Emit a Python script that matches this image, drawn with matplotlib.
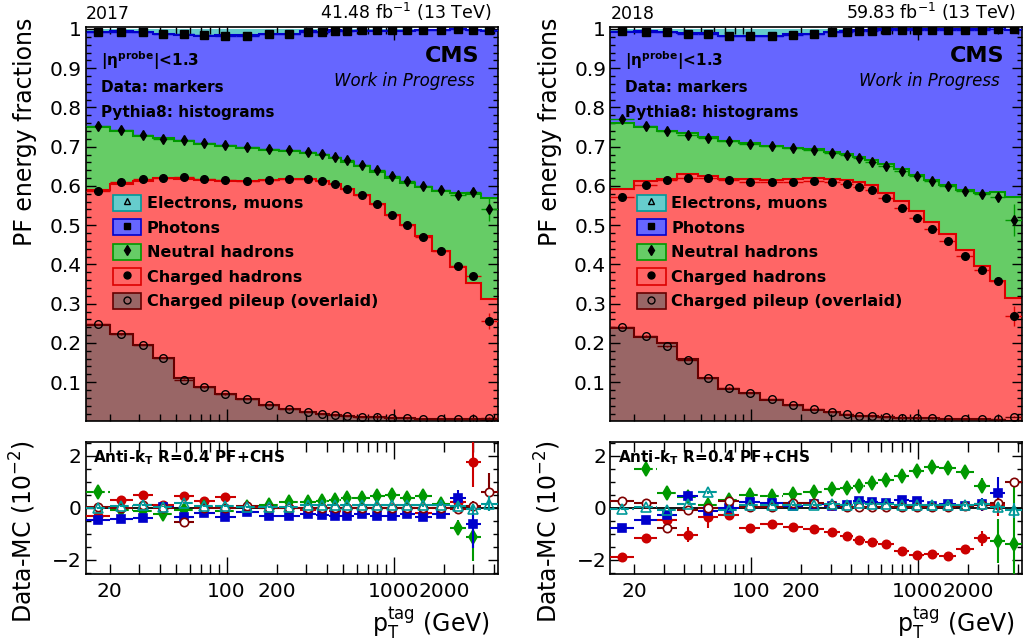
import numpy as np
import matplotlib
matplotlib.use("Agg")
import matplotlib.pyplot as plt
from matplotlib.patches import Patch
from matplotlib.lines import Line2D
from matplotlib.ticker import FixedLocator, FuncFormatter, MultipleLocator, FixedFormatter

plt.rcParams['font.family'] = ['DejaVu Sans']
plt.rcParams['mathtext.fontset'] = 'dejavusans'

# ---------------- data ----------------
pt_edges = [14.4, 20, 27.5, 36.2, 48.3, 63.6, 85, 113.6, 156, 205.5, 275, 343, 410,
            483, 578, 721, 887, 1091, 1341, 1695, 2173, 2711, 3336, 4218]

years = ["2017", "2018"]
lumi_labels = [r"41.48 fb$^{-1}$ (13 TeV)", r"59.83 fb$^{-1}$ (13 TeV)"]

# data marker heights in the stacked plot (cumulative levels)
chf17 = [0.587, 0.609, 0.617, 0.620, 0.623, 0.618, 0.616, 0.612, 0.616, 0.617, 0.617, 0.612,
         0.605, 0.592, 0.578, 0.554, 0.527, 0.500, 0.470, 0.433, 0.395, 0.370, 0.256]
nht17 = [0.753, 0.742, 0.731, 0.720, 0.718, 0.710, 0.704, 0.698, 0.693, 0.691, 0.686, 0.681,
         0.674, 0.666, 0.654, 0.640, 0.625, 0.612, 0.601, 0.589, 0.576, 0.585, 0.541]
pht17 = [0.992, 0.993, 0.991, 0.987, 0.986, 0.984, 0.983, 0.983, 0.986, 0.987, 0.993, 0.993,
         0.995, 0.995, 0.997, 0.997, 0.997, 0.997, 0.997, 0.997, 0.999, 0.998, 0.997]
pu17 = [0.247, 0.222, 0.195, 0.162, 0.106, 0.087, 0.069, 0.057, 0.043, 0.031, 0.025, 0.019,
        0.016, 0.014, 0.012, 0.010, 0.009, 0.008, 0.007, 0.007, 0.006, 0.006, 0.009]

chf18 = [0.572, 0.602, 0.614, 0.619, 0.621, 0.615, 0.611, 0.609, 0.611, 0.612, 0.609, 0.604,
         0.597, 0.589, 0.568, 0.545, 0.518, 0.490, 0.459, 0.421, 0.385, 0.359, 0.269]
nht18 = [0.770, 0.753, 0.741, 0.729, 0.723, 0.714, 0.706, 0.701, 0.696, 0.692, 0.685, 0.679,
         0.670, 0.662, 0.652, 0.638, 0.625, 0.612, 0.599, 0.587, 0.579, 0.572, 0.513]
pht18 = [0.995, 0.993, 0.991, 0.987, 0.986, 0.983, 0.981, 0.981, 0.985, 0.987, 0.991, 0.993,
         0.996, 0.996, 0.998, 0.998, 0.998, 0.998, 0.998, 0.998, 0.998, 0.999, 0.999]
pu18 = [0.241, 0.218, 0.191, 0.157, 0.111, 0.086, 0.073, 0.056, 0.043, 0.032, 0.024, 0.018,
        0.015, 0.013, 0.011, 0.009, 0.008, 0.008, 0.007, 0.006, 0.006, 0.006, 0.012]

# top-panel data uncertainties
etop17_ch = [0.002]*20 + [0.004, 0.008, 0.02]
etop17_nh = [0.003]*20 + [0.005, 0.01, 0.03]
etop18_ch = [0.002]*20 + [0.004, 0.008, 0.025]
etop18_nh = [0.003]*20 + [0.005, 0.01, 0.04]

# Data - MC differences (units of 1e-2)
dch17 = [-0.30, 0.30, 0.50, 0.10, 0.47, 0.26, 0.40, 0.02, 0.00, 0.00, -0.10, 0.00,
         -0.12, 0.00, 0.00, 0.00, 0.00, 0.00, -0.18, 0.00, 0.22, 1.76, -5.70]
dnh17 = [0.63, -0.10, -0.12, -0.25, -0.10, 0.03, -0.12, 0.05, 0.12, 0.21, 0.22, 0.25,
         0.31, 0.39, 0.38, 0.44, 0.48, 0.39, 0.45, 0.15, -0.76, -1.14, 2.90]
dph17 = [-0.48, -0.44, -0.38, 0.03, -0.35, -0.21, -0.35, -0.16, -0.33, -0.33, -0.25, -0.29,
         -0.33, -0.33, -0.25, -0.30, -0.30, -0.25, -0.36, -0.25, 0.39, -0.63, 3.00]
de17 = [0.00, 0.07, 0.10, 0.05, 0.18, 0.07, 0.07, 0.04, 0.04, 0.05, 0.10, 0.10,
        0.10, 0.10, 0.10, 0.10, 0.10, 0.10, 0.10, 0.12, 0.07, -0.03, 0.16]
dpu17 = [0.05, 0.00, 0.12, 0.00, -0.54, 0.00, 0.00, 0.07, 0.00, 0.00, 0.00, 0.00,
         0.00, 0.00, 0.00, 0.00, 0.00, 0.00, 0.00, 0.00, -0.03, 0.07, 0.61]

dch18 = [-1.91, -1.17, -0.45, -1.03, -0.36, -0.27, -0.76, -0.64, -0.72, -0.82, -0.95, -1.08,
         -1.25, -1.31, -1.40, -1.65, -1.82, -1.78, -1.85, -1.59, -1.18, 0.10, -4.50]
dnh18 = [2.90, 1.50, 0.57, 0.40, 0.10, 0.29, 0.48, 0.44, 0.54, 0.61, 0.71, 0.77,
         0.86, 0.97, 1.08, 1.21, 1.41, 1.56, 1.53, 1.37, 0.86, -1.27, -1.40]
dph18 = [-0.76, -0.48, -0.29, 0.44, -0.12, 0.00, 0.22, 0.17, 0.07, 0.14, 0.07, 0.10,
         0.25, 0.22, 0.20, 0.29, 0.25, 0.07, 0.14, 0.07, 0.14, 0.58, 6.10]
de18 = [-0.03, 0.03, -0.10, 0.16, 0.60, -0.10, 0.12, 0.10, 0.10, 0.10, 0.16, 0.10,
        0.18, 0.16, 0.16, 0.10, 0.12, 0.10, 0.12, 0.10, 0.16, 0.03, -0.10]
dpu18 = [0.27, 0.18, -0.76, -0.10, 0.00, 0.25, 0.05, 0.05, 0.17, 0.17, 0.10, 0.05,
         0.05, 0.05, 0.05, 0.05, 0.05, 0.05, 0.05, 0.07, 0.10, 0.20, 1.00]

# uncertainties on Data - MC (1e-2)
ech17 = [0.06, 0.06, 0.06, 0.08, 0.06, 0.06, 0.06, 0.06, 0.05, 0.05, 0.05, 0.05,
         0.05, 0.05, 0.05, 0.06, 0.06, 0.08, 0.10, 0.15, 0.30, 0.95, 0.30]
enh17 = [0.08, 0.08, 0.08, 0.10, 0.08, 0.08, 0.08, 0.08, 0.06, 0.06, 0.06, 0.06,
         0.06, 0.06, 0.06, 0.08, 0.08, 0.10, 0.12, 0.15, 0.30, 0.90, 0.05]
eph17 = [0.06, 0.06, 0.06, 0.08, 0.06, 0.06, 0.06, 0.06, 0.05, 0.05, 0.05, 0.05,
         0.05, 0.05, 0.05, 0.06, 0.06, 0.08, 0.10, 0.12, 0.28, 0.90, 0.30]
ee17 = [0.03, 0.03, 0.03, 0.03, 0.03, 0.03, 0.03, 0.03, 0.03, 0.03, 0.03, 0.03,
        0.03, 0.03, 0.03, 0.03, 0.03, 0.04, 0.05, 0.06, 0.10, 0.15, 0.30]
epu17 = [0.05, 0.05, 0.05, 0.06, 0.08, 0.05, 0.05, 0.05, 0.03, 0.03, 0.03, 0.03,
         0.03, 0.03, 0.03, 0.03, 0.03, 0.03, 0.04, 0.05, 0.10, 0.20, 0.75]

ech18 = [0.06, 0.08, 0.15, 0.30, 0.40, 0.08, 0.06, 0.06, 0.05, 0.05, 0.05, 0.05,
         0.05, 0.05, 0.05, 0.06, 0.06, 0.08, 0.10, 0.15, 0.30, 0.40, 0.30]
enh18 = [0.10, 0.10, 0.08, 0.10, 0.10, 0.08, 0.08, 0.08, 0.06, 0.06, 0.06, 0.06,
         0.06, 0.06, 0.06, 0.08, 0.08, 0.10, 0.12, 0.15, 0.30, 0.85, 2.50]
eph18 = [0.06, 0.06, 0.06, 0.10, 0.10, 0.08, 0.06, 0.06, 0.05, 0.05, 0.05, 0.05,
         0.05, 0.05, 0.05, 0.06, 0.06, 0.08, 0.10, 0.12, 0.25, 0.60, 0.30]
ee18 = [0.03, 0.03, 0.03, 0.03, 0.05, 0.03, 0.03, 0.03, 0.03, 0.03, 0.03, 0.03,
        0.03, 0.03, 0.03, 0.03, 0.03, 0.04, 0.05, 0.06, 0.10, 0.15, 0.30]
epu18 = [0.05, 0.05, 0.08, 0.06, 0.05, 0.05, 0.05, 0.05, 0.03, 0.03, 0.03, 0.03,
         0.03, 0.03, 0.03, 0.03, 0.03, 0.03, 0.04, 0.05, 0.10, 0.30, 0.15]

legend_labels = ["Electrons, muons", "Photons", "Neutral hadrons", "Charged hadrons",
                 "Charged pileup (overlaid)"]
x_labeled_ticks = [20, 100, 200, 1000, 2000]
x_minor_ticks = [20, 30, 40, 50, 60, 70, 80, 90, 200, 300, 400, 500, 600, 700, 800, 900,
                 2000, 3000, 4000]
y_top_ticks = [0.1, 0.2, 0.3, 0.4, 0.5, 0.6, 0.7, 0.8, 0.9, 1.0]
y_top_ticklabels = ["0.1", "0.2", "0.3", "0.4", "0.5", "0.6", "0.7", "0.8", "0.9", "1"]

# ---------------- style ----------------
fill_e, line_e = '#66cccc', '#009999'
fill_ph, line_ph = '#6666ff', '#0000cc'
fill_nh, line_nh = '#66cc66', '#009900'
fill_ch, line_ch = '#ff6666', '#dd0000'
fill_pu, line_pu = '#996666', '#660000'
mk_ch, mk_nh, mk_ph, mk_e, mk_pu = '#cc0000', '#009900', '#0000cc', '#009999', '#800000'

W, H = 1025, 643
fig = plt.figure(figsize=(W / 100, H / 100), dpi=100)

edges = np.array(pt_edges)
centers = np.sqrt(edges[:-1] * edges[1:])
xerr = [centers - edges[:-1], edges[1:] - centers]


def style_axis(ax, top):
    ax.set_xscale('log')
    ax.set_xlim(edges[0], edges[-1])
    ax.xaxis.set_major_locator(FixedLocator([100, 1000]))
    ax.xaxis.set_minor_locator(FixedLocator(x_minor_ticks))
    if top:
        ax.xaxis.set_major_formatter(FuncFormatter(lambda v, p: ''))
        ax.xaxis.set_minor_formatter(FuncFormatter(lambda v, p: ''))
    else:
        lab = lambda v, p: ('%d' % round(v)) if round(v) in x_labeled_ticks else ''
        ax.xaxis.set_major_formatter(FuncFormatter(lab))
        ax.xaxis.set_minor_formatter(FuncFormatter(lab))
    ax.tick_params(axis='both', which='both', direction='in', top=True, right=True,
                   labelsize=14.5, width=1.0)
    ax.tick_params(axis='x', which='both', pad=6)
    ax.tick_params(axis='y', which='both', pad=3)
    ax.tick_params(axis='x', which='major', length=9)
    ax.tick_params(axis='x', which='minor', length=5)
    ax.tick_params(axis='y', which='major', length=7)
    ax.tick_params(axis='y', which='minor', length=3.5)
    for s in ax.spines.values():
        s.set_linewidth(1.2)


def draw_top(ax, chf, nht, pht, pu, dch, dnh, dph, dpu, e_ch, e_nh, year, lumi):
    chf, nht, pht, pu = map(np.array, (chf, nht, pht, pu))
    dch, dnh, dph, dpu = [np.array(a) / 100 for a in (dch, dnh, dph, dpu)]
    mc_ch = chf - dch
    mc_nh = nht - (dch + dnh)
    mc_ph = pht - (dch + dnh + dph)
    mc_pu = pu - dpu
    total = np.ones_like(mc_ch)
    ax.stairs(total, edges, baseline=0, fill=True, color=fill_e, zorder=1)
    ax.stairs(mc_ph, edges, baseline=0, fill=True, color=fill_ph, zorder=1.1)
    ax.stairs(mc_nh, edges, baseline=0, fill=True, color=fill_nh, zorder=1.2)
    ax.stairs(mc_ch, edges, baseline=0, fill=True, color=fill_ch, zorder=1.3)
    ax.stairs(mc_pu, edges, baseline=0, fill=True, color=fill_pu, zorder=1.4)
    ax.stairs(mc_ph, edges, baseline=None, color=line_ph, lw=1.5, zorder=2)
    ax.stairs(mc_nh, edges, baseline=None, color=line_nh, lw=1.5, zorder=2)
    ax.stairs(mc_ch, edges, baseline=None, color=line_ch, lw=1.5, zorder=2)
    ax.stairs(mc_pu, edges, baseline=None, color=line_pu, lw=1.5, zorder=2)

    ax.errorbar(centers, pht, xerr=xerr, yerr=0.002, fmt='s', ms=5.5, mfc='black',
                mec='black', ecolor=line_ph, elinewidth=1.0, zorder=4)
    ax.errorbar(centers, nht, xerr=xerr, yerr=e_nh, fmt='d', ms=5.5, mfc='black',
                mec='black', ecolor=line_nh, elinewidth=1.0, zorder=4)
    ax.errorbar(centers, chf, xerr=xerr, yerr=e_ch, fmt='o', ms=5.5, mfc='black',
                mec='black', ecolor=line_ch, elinewidth=1.0, zorder=4)
    ax.errorbar(centers, pu, xerr=xerr, yerr=0.001, fmt='o', ms=5.5, mfc='none',
                mec='black', mew=1.0, ecolor=line_pu, elinewidth=1.0, zorder=4)

    ax.set_ylim(0.001, 1.005)
    ax.yaxis.set_major_locator(FixedLocator(y_top_ticks))
    ax.yaxis.set_major_formatter(FixedFormatter(y_top_ticklabels))
    ax.yaxis.set_minor_locator(MultipleLocator(0.02))
    style_axis(ax, True)

    ax.set_ylabel("PF energy fractions", fontsize=17, loc='top')
    ax.yaxis.set_label_coords(-0.118, 1.025)

    ax.text(0.0, 1.02, year, transform=ax.transAxes, fontsize=12.5, ha='left', va='baseline')
    ax.text(0.985, 1.02, lumi, transform=ax.transAxes, fontsize=12.5, ha='right', va='baseline')
    ax.text(0.956, 0.912, "CMS", transform=ax.transAxes, fontsize=16, fontweight='bold',
            ha='right', va='baseline', zorder=6)
    ax.text(0.944, 0.850, "Work in Progress", transform=ax.transAxes, fontsize=12,
            style='italic', ha='right', va='baseline', zorder=6)
    ax.text(0.036, 0.902, r"|η$^{\mathbf{probe}}$|<1.3", transform=ax.transAxes, fontsize=11,
            fontweight='bold', ha='left', va='baseline', zorder=6)
    ax.text(0.036, 0.836, "Data: markers", transform=ax.transAxes, fontsize=11,
            fontweight='bold', ha='left', va='baseline', zorder=6)
    ax.text(0.036, 0.772, "Pythia8: histograms", transform=ax.transAxes, fontsize=11,
            fontweight='bold', ha='left', va='baseline', zorder=6)

    handles = [
        (Patch(facecolor=fill_e, edgecolor=line_e, lw=1.2),
         Line2D([], [], marker='^', ls='none', mfc='none', mec='black', ms=5)),
        (Patch(facecolor=fill_ph, edgecolor=line_ph, lw=1.2),
         Line2D([], [], marker='s', ls='none', mfc='black', mec='black', ms=5)),
        (Patch(facecolor=fill_nh, edgecolor=line_nh, lw=1.2),
         Line2D([], [], marker='d', ls='none', mfc='black', mec='black', ms=5)),
        (Patch(facecolor=fill_ch, edgecolor=line_ch, lw=1.2),
         Line2D([], [], marker='o', ls='none', mfc='black', mec='black', ms=5)),
        (Patch(facecolor=fill_pu, edgecolor=line_pu, lw=1.2),
         Line2D([], [], marker='o', ls='none', mfc='none', mec='black', ms=5)),
    ]
    leg = ax.legend(handles, legend_labels, loc='upper left', bbox_to_anchor=(0.045, 0.595),
                    frameon=False, borderpad=0, handlelength=1.8, handleheight=1.2,
                    labelspacing=0.5, handletextpad=0.35,
                    prop={'size': 11.5, 'weight': 'bold'})
    leg.set_zorder(6)


def draw_bottom(ax, dch, dnh, dph, de, dpu, ech, enh, eph, ee, epu):
    ax.axhline(0, color='black', lw=1.3, zorder=2)
    specs = [
        (dch, ech, 'o', mk_ch, mk_ch, '-', 6.0),
        (dnh, enh, 'd', mk_nh, mk_nh, '--', 7.0),
        (dph, eph, 's', mk_ph, mk_ph, '-', 6.0),
        (dpu, epu, 'o', 'white', mk_pu, '-', 6.0),
        (de, ee, '^', 'none', mk_e, '--', 6.5),
    ]
    for i, (vals, errs, m, mfc, col, ls, ms) in enumerate(specs):
        eb = ax.errorbar(centers, vals, xerr=xerr, yerr=errs, fmt=m, ms=ms, mfc=mfc,
                         mec=col, mew=1.2, ecolor=col, elinewidth=1.5, zorder=3 + i * 0.1)
        eb[2][0].set_linestyle(ls)   # horizontal (bin-width) bars
    ax.set_ylim(-2.55, 2.55)
    ax.yaxis.set_major_locator(FixedLocator([-2, 0, 2]))
    ax.yaxis.set_minor_locator(MultipleLocator(0.5))
    style_axis(ax, False)
    ax.tick_params(axis='x', which='major', length=12)
    ax.tick_params(axis='x', which='minor', length=7)
    ax.set_ylabel(r"Data-MC (10$^{-2}$)", fontsize=17, loc='top')
    ax.yaxis.set_label_coords(-0.116, 1.013)
    ax.set_xlabel(r"p$_{\mathrm{T}}^{\mathrm{tag}}$ (GeV)", fontsize=17, loc='right')
    ax.xaxis.set_label_coords(0.981, -0.235)
    ax.text(0.018, 0.841, r"Anti-k$_{\mathbf{T}}$ R=0.4 PF+CHS", transform=ax.transAxes,
            fontsize=11, fontweight='bold', ha='left', va='baseline', zorder=6)


aw = 412 / W
top_b, top_h = 1 - 421 / H, (421 - 27) / H
bot_b, bot_h = 1 - 574 / H, (574 - 441.7) / H
lefts = [86 / W, 610.3 / W]

top_sets = [(chf17, nht17, pht17, pu17, dch17, dnh17, dph17, dpu17, etop17_ch, etop17_nh),
            (chf18, nht18, pht18, pu18, dch18, dnh18, dph18, dpu18, etop18_ch, etop18_nh)]
bot_sets = [(dch17, dnh17, dph17, de17, dpu17, ech17, enh17, eph17, ee17, epu17),
            (dch18, dnh18, dph18, de18, dpu18, ech18, enh18, eph18, ee18, epu18)]

for k in range(2):
    axt = fig.add_axes([lefts[k], top_b, aw, top_h])
    draw_top(axt, *top_sets[k], years[k], lumi_labels[k])
    axb = fig.add_axes([lefts[k], bot_b, aw, bot_h])
    draw_bottom(axb, *bot_sets[k])

fig.savefig("out.png", dpi=100)
